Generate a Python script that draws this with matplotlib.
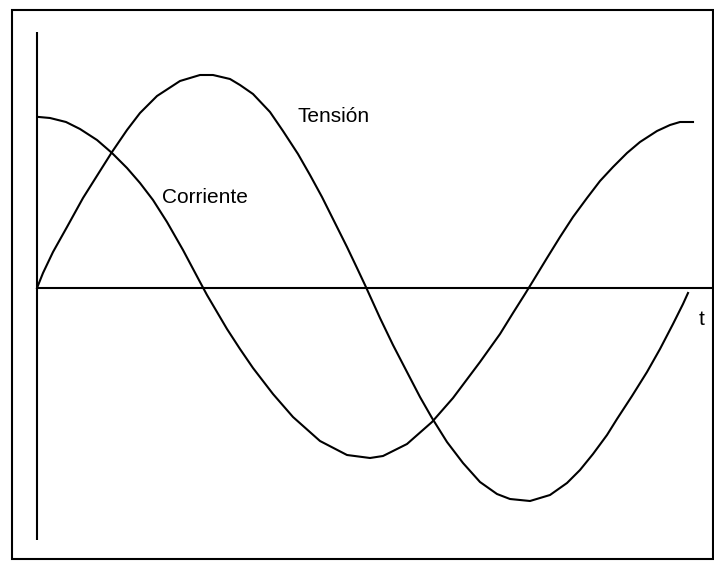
import numpy as np
import matplotlib
matplotlib.use("Agg")
import matplotlib.pyplot as plt
from matplotlib.patches import Rectangle

# values: t along the horizontal axis, amplitude up from it
tension_t = [0, 6, 16, 30, 46, 63, 75, 90, 103, 120, 143, 163, 176, 193, 203,
             216, 233, 246, 261, 273, 285, 293, 303, 310, 320, 328, 333, 343,
             356, 370, 383, 395, 410, 426, 443, 460, 473, 493, 513, 530, 543,
             556, 570, 580, 595, 610, 623, 636, 646, 651]
tension_v = [0, 15, 36, 61, 90, 117, 136, 158, 175, 192, 207, 213, 213, 209, 203,
             194, 176, 157, 134, 113, 91, 75, 55, 41, 20, 3, -8, -30,
             -57, -84, -109, -130, -154, -175, -194, -206, -211, -213, -207, -195, -182,
             -166, -147, -131, -108, -84, -61, -36, -16, -5]

corriente_t = [2, 13, 29, 43, 60, 75, 90, 103, 116, 130, 146, 163, 170, 190, 203,
               216, 236, 256, 283, 310, 333, 346, 370, 395, 416, 443, 463, 476,
               488, 496, 510, 523, 536, 550, 563, 576, 590, 603, 620, 633, 643, 656]
corriente_v = [171, 170, 166, 159, 148, 135, 120, 105, 88, 66, 38, 6, -7, -41, -61,
               -80, -106, -129, -153, -167, -170, -168, -156, -134, -110, -74, -46, -25,
               -6, 7, 30, 51, 71, 90, 107, 121, 135, 146, 157, 163, 166, 166]

labels = ["Tensión", "Corriente", "t"]

fig = plt.figure(figsize=(7.14, 5.61), dpi=100)
ax = fig.add_axes([0, 0, 1, 1])
ax.set_xlim(-37, 677)
ax.set_ylim(-273, 288)
ax.axis("off")

# outer frame of the scanned figure
ax.add_patch(Rectangle((12 / 714, 2 / 561), 701 / 714, 549 / 561,
                       transform=ax.transAxes, fill=False, lw=1.5,
                       edgecolor="black", clip_on=False))

# axes
ax.vlines(0, -252, 256, color="black", lw=1.5)
ax.hlines(0, 0, 675, color="black", lw=1.5)

ax.plot(tension_t, tension_v, color="black", lw=1.5, solid_joinstyle="round")
ax.plot(corriente_t, corriente_v, color="black", lw=1.5, solid_joinstyle="round")

font = dict(family=["Liberation Sans", "DejaVu Sans"], size=15, va="baseline")
ax.text(260, 166, labels[0], **font)
ax.text(125, 85, labels[1], **font)
ax.text(662, -37, labels[2], **font)

fig.savefig("out.png", dpi=100)
